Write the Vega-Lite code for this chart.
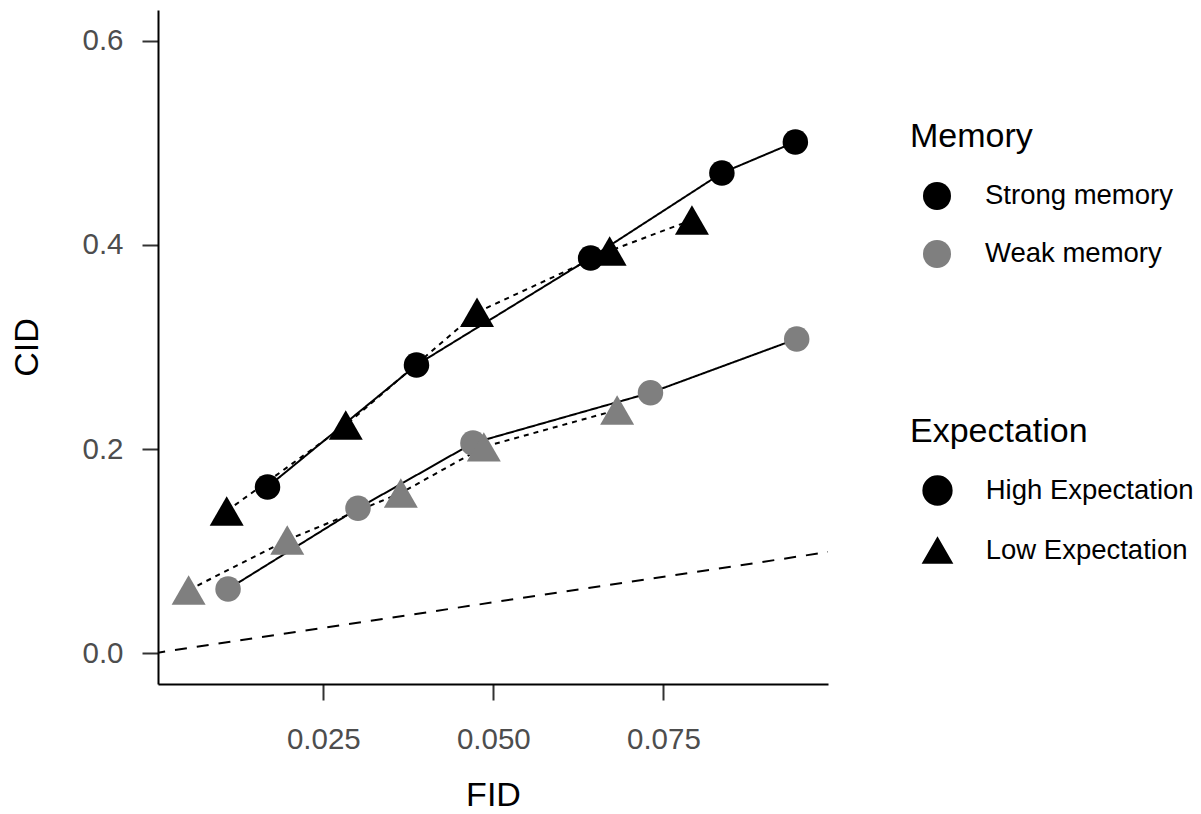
{
  "$schema": "https://vega.github.io/schema/vega-lite/v6.json",
  "width": 670,
  "height": 674,
  "autosize": {"type": "none"},
  "padding": {"left": 158, "top": 10, "right": 373, "bottom": 130},
  "background": "white",
  "config": {
    "view": {"stroke": null},
    "font": "Liberation Sans",
    "axis": {
      "grid": false,
      "domainColor": "#000000",
      "domainWidth": 2,
      "tickColor": "#333333",
      "tickWidth": 2,
      "tickSize": 16,
      "labelColor": "#4d4d4d",
      "labelFontSize": 29.5,
      "labelFont": "Liberation Sans",
      "titleFont": "Liberation Sans",
      "titleFontSize": 34,
      "titleFontWeight": "normal",
      "titleColor": "#000000"
    },
    "legend": {
      "titleFont": "Liberation Sans",
      "titleFontSize": 34,
      "titleFontWeight": "normal",
      "titleColor": "#000000",
      "labelFont": "Liberation Sans",
      "labelFontSize": 27.5,
      "labelColor": "#000000",
      "labelLimit": 0,
      "titleLimit": 0,
      "padding": 0
    }
  },
  "datasets": {
    "pts": [
      {"Memory": "Strong memory", "Expectation": "High Expectation", "FID": 0.0168, "CID": 0.1629},
      {"Memory": "Strong memory", "Expectation": "High Expectation", "FID": 0.0387, "CID": 0.2824},
      {"Memory": "Strong memory", "Expectation": "High Expectation", "FID": 0.0643, "CID": 0.3872},
      {"Memory": "Strong memory", "Expectation": "High Expectation", "FID": 0.0836, "CID": 0.4704},
      {"Memory": "Strong memory", "Expectation": "High Expectation", "FID": 0.0944, "CID": 0.5008},
      {"Memory": "Strong memory", "Expectation": "Low Expectation", "FID": 0.0108, "CID": 0.1394},
      {"Memory": "Strong memory", "Expectation": "Low Expectation", "FID": 0.0283, "CID": 0.2236},
      {"Memory": "Strong memory", "Expectation": "Low Expectation", "FID": 0.0476, "CID": 0.3340},
      {"Memory": "Strong memory", "Expectation": "Low Expectation", "FID": 0.0671, "CID": 0.3941},
      {"Memory": "Strong memory", "Expectation": "Low Expectation", "FID": 0.0792, "CID": 0.4244},
      {"Memory": "Weak memory", "Expectation": "High Expectation", "FID": 0.0110, "CID": 0.0630},
      {"Memory": "Weak memory", "Expectation": "High Expectation", "FID": 0.0301, "CID": 0.1420},
      {"Memory": "Weak memory", "Expectation": "High Expectation", "FID": 0.0470, "CID": 0.2059},
      {"Memory": "Weak memory", "Expectation": "High Expectation", "FID": 0.0731, "CID": 0.2552},
      {"Memory": "Weak memory", "Expectation": "High Expectation", "FID": 0.0946, "CID": 0.3079},
      {"Memory": "Weak memory", "Expectation": "Low Expectation", "FID": 0.0052, "CID": 0.0620},
      {"Memory": "Weak memory", "Expectation": "Low Expectation", "FID": 0.0197, "CID": 0.1110},
      {"Memory": "Weak memory", "Expectation": "Low Expectation", "FID": 0.0364, "CID": 0.1570},
      {"Memory": "Weak memory", "Expectation": "Low Expectation", "FID": 0.0486, "CID": 0.2022},
      {"Memory": "Weak memory", "Expectation": "Low Expectation", "FID": 0.0682, "CID": 0.2383}
    ],
    "ref": [
      {"FID": 0, "CID": 0},
      {"FID": 0.1, "CID": 0.1}
    ]
  },
  "encoding": {
    "x": {
      "field": "FID",
      "type": "quantitative",
      "scale": {"domain": [0.0007, 0.0992], "nice": false, "zero": false},
      "axis": {"title": "FID", "values": [0.025, 0.05, 0.075], "format": ".3f", "labelPadding": 25, "titlePadding": 25}
    },
    "y": {
      "field": "CID",
      "type": "quantitative",
      "scale": {"domain": [-0.03, 0.63], "nice": false, "zero": false},
      "axis": {"title": "CID", "values": [0, 0.2, 0.4, 0.6], "format": ".1f", "labelPadding": 19, "titlePadding": 37}
    }
  },
  "layer": [
    {
      "data": {"name": "ref"},
      "mark": {"type": "line", "clip": true, "color": "#000000", "strokeWidth": 2, "strokeDash": [12, 10]},
      "encoding": {}
    },
    {
      "data": {"name": "pts"},
      "mark": {"type": "line", "color": "#000000", "strokeWidth": 2},
      "encoding": {
        "detail": [{"field": "Memory"}, {"field": "Expectation"}],
        "strokeDash": {
          "condition": {"test": "datum.Expectation === 'Low Expectation'", "value": [5, 5]},
          "value": [1, 0]
        }
      }
    },
    {
      "data": {"name": "pts"},
      "mark": {"type": "point", "filled": true, "opacity": 1, "strokeWidth": 0},
      "encoding": {
        "color": {
          "field": "Memory",
          "type": "nominal",
          "scale": {"domain": ["Strong memory", "Weak memory"], "range": ["#000000", "#7f7f7f"]},
          "legend": {
            "orient": "none",
            "legendX": 752,
            "legendY": 110,
            "title": "Memory",
            "symbolType": "circle",
            "symbolSize": 784,
            "symbolStrokeWidth": 0,
            "symbolOpacity": 1,
            "symbolOffset": 13,
            "labelOffset": 34,
            "titlePadding": 28,
            "rowPadding": 30
          }
        },
        "shape": {
          "field": "Expectation",
          "type": "nominal",
          "scale": {"domain": ["High Expectation", "Low Expectation"], "range": ["circle", "triangle-up"]},
          "legend": {
            "orient": "none",
            "legendX": 752,
            "legendY": 405,
            "title": "Expectation",
            "symbolSize": 800,
            "symbolStrokeWidth": 2,
            "symbolStrokeColor": "#000000",
            "symbolFillColor": "#000000",
            "symbolOpacity": 1,
            "symbolOffset": 12,
            "labelOffset": 32.7,
            "titlePadding": 26,
            "rowPadding": 25,
            "encode": {
              "symbols": {
                "update": {
                  "fill": {"value": "#000000"},
                  "stroke": {"value": "#000000"},
                  "strokeWidth": {"value": 2},
                  "opacity": {"value": 1}
                }
              }
            }
          }
        },
        "size": {
          "condition": {"test": "datum.Expectation === 'Low Expectation'", "value": 1156},
          "value": 650
        }
      }
    }
  ]
}
